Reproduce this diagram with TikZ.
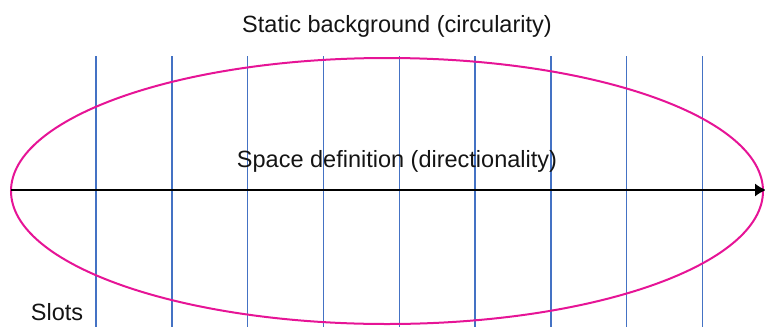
\documentclass[tikz,border=0pt]{standalone}
\usepackage{fontspec}
\setmainfont{Liberation Sans}
\usetikzlibrary{arrows.meta,positioning}
\definecolor{ringclr}{RGB}{230,20,150}
\definecolor{slotclr}{RGB}{68,114,196}
\definecolor{txtclr}{RGB}{20,20,20}
\tikzset{
  ring/.style={draw=ringclr,line width=2pt},
  slotln/.style={draw=slotclr,line width=1.4pt},
  axarr/.style={-{Latex[length=11pt,width=13pt]},line width=1.3pt,color=black},
  lbl/.style={font=\fontsize{23.5}{27}\selectfont,text=txtclr,inner sep=0pt},
}

\begin{document}
\begin{tikzpicture}[x=1pt,y=-1pt]
  \useasboundingbox (0,0) rectangle (765,327);
  \node[lbl] (bg) at (397,26) {Static background (circularity)};

  % slots
  \foreach \i in {0,...,8}
    \draw[slotln] (96+75.8*\i,56) -- (96+75.8*\i,327);

  \draw[ring] (387,191) ellipse (376 and 133);

  \coordinate (axl) at (11,190);
  \coordinate (axr) at (766,190);
  \draw[axarr] (axl) -- (axr);

  \node[lbl] (sp) at (397,161) {Space definition (directionality)};
  \node[lbl] (slots) at (57,312) {Slots};
\end{tikzpicture}
\end{document}
